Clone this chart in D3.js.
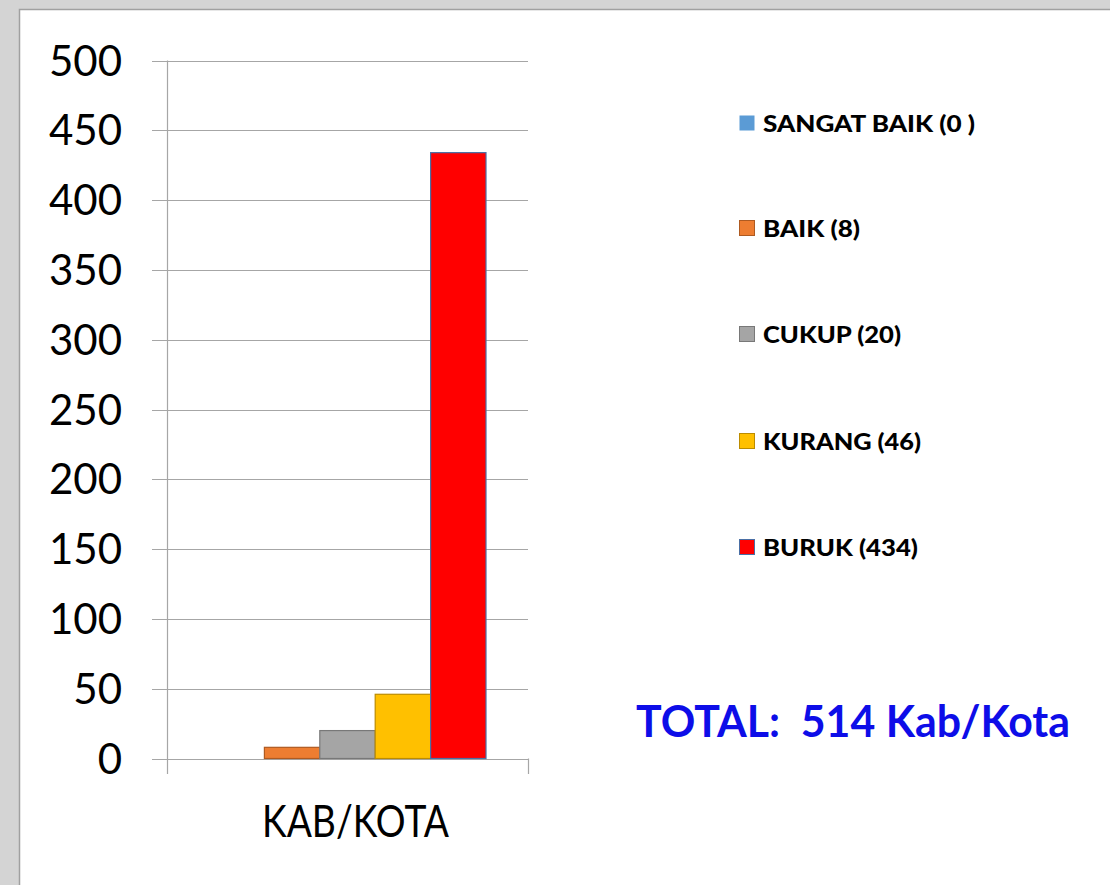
<!DOCTYPE html>
<html>
<head>
<meta charset="utf-8">
<script src="https://cdn.jsdelivr.net/npm/d3@7"></script>
<style>
  html, body { margin: 0; padding: 0; background: #d4d4d4; }
  svg { display: block; }
  text { white-space: pre; }
</style>
</head>
<body>
<svg id="chart" width="1110" height="885"></svg>
<script>
// ---- data ----
const categories = ["KAB/KOTA"];
const seriesNames = ["SANGAT BAIK (0 )", "BAIK (8)", "CUKUP (20)", "KURANG (46)", "BURUK (434)"];
const seriesValues = [0, 8, 20, 46, 434];
const seriesColors = ["#5b9bd5", "#ed7d31", "#a5a5a5", "#ffc000", "#ff0000"];
const seriesStrokes = ["#41719c", "#ae5a21", "#787878", "#bc8c00", "#4a6fa5"];
const yTicks = [0, 50, 100, 150, 200, 250, 300, 350, 400, 450, 500];
const totalLabel = "TOTAL:  514 Kab/Kota";

const svg = d3.select("#chart");
const W = 1110, H = 885;
const FONT = "Lato, 'Open Sans', sans-serif";

// background + slide panel
svg.append("rect").attr("x", 0).attr("y", 0).attr("width", W).attr("height", H).attr("fill", "#d4d4d4");
svg.append("rect").attr("x", 19.5).attr("y", 9.5).attr("width", W).attr("height", H)
  .attr("fill", "#ffffff").attr("stroke", "#a0a0a0").attr("stroke-width", 1.5);

const plot = { left: 167, right: 528, top: 60.5, bottom: 758.5 };

const x = d3.scaleBand().domain(categories).range([plot.left, plot.right]).paddingInner(0).paddingOuter(0);
const xs = d3.scaleBand().domain(seriesNames).range([0, x.bandwidth()]).paddingInner(0).paddingOuter(0.758);
const y = d3.scaleLinear().domain([0, 500]).range([plot.bottom, plot.top]);

// gridlines with tick stubs
svg.append("g").selectAll("line").data(yTicks).join("line")
  .attr("x1", 152).attr("x2", plot.right)
  .attr("y1", d => Math.round(y(d)) + 0.5).attr("y2", d => Math.round(y(d)) + 0.5)
  .attr("stroke", "#a6a6a6").attr("stroke-width", 1.2);

// y axis line
svg.append("line").attr("x1", plot.left + 0.5).attr("x2", plot.left + 0.5)
  .attr("y1", y(500)).attr("y2", 774).attr("stroke", "#a6a6a6").attr("stroke-width", 1.2);
// category boundary tick at right
svg.append("line").attr("x1", plot.right + 0.5).attr("x2", plot.right + 0.5)
  .attr("y1", y(0)).attr("y2", 774).attr("stroke", "#a6a6a6").attr("stroke-width", 1.2);

// y tick labels
svg.append("g").selectAll("text").data(yTicks).join("text")
  .attr("x", 122).attr("y", d => y(d) + 15)
  .attr("text-anchor", "end")
  .attr("font-family", FONT).attr("font-size", 42)
  .attr("fill", "#000").text(d => d);

// bars
const data = seriesNames.map((s, i) => ({ s, v: seriesValues[i], c: seriesColors[i], k: seriesStrokes[i] }));
svg.append("g").selectAll("rect").data(data.filter(d => d.v > 0)).join("rect")
  .attr("x", d => x(categories[0]) + xs(d.s))
  .attr("y", d => y(d.v))
  .attr("width", xs.bandwidth())
  .attr("height", d => y(0) - y(d.v))
  .attr("fill", d => d.c).attr("stroke", d => d.k).attr("stroke-width", 1.2);

// category label
svg.append("text")
  .attr("x", 355.5).attr("y", 837)
  .attr("text-anchor", "middle")
  .attr("font-family", FONT).attr("font-size", 45)
  .attr("fill", "#000").text(categories[0])
  .attr("textLength", 187).attr("lengthAdjust", "spacingAndGlyphs");

// legend
const legendY = [123, 228, 334, 441, 547];
const lg = svg.append("g").selectAll("g").data(data).join("g")
  .attr("transform", (d, i) => `translate(739, ${legendY[i]})`);
lg.append("rect").attr("x", 0.5).attr("y", -7.5).attr("width", 15).attr("height", 15)
  .attr("fill", d => d.c).attr("stroke", (d, i) => i === 0 ? "none" : d.k).attr("stroke-width", 1);
const legendWidths = [212, 97, 138, 158, 155];
lg.append("text").attr("x", 24).attr("y", 8.5)
  .attr("font-family", FONT).attr("font-weight", 900).attr("font-size", 23)
  .attr("fill", "#000").text(d => d.s)
  .each(function(d, i) {
    d3.select(this).attr("textLength", legendWidths[i]).attr("lengthAdjust", "spacingAndGlyphs");
  });

// total annotation
svg.append("text").attr("x", 636).attr("y", 737)
  .attr("font-family", FONT).attr("font-weight", "bold").attr("font-size", 44)
  .attr("fill", "#0d0de8").attr("textLength", 434).attr("lengthAdjust", "spacingAndGlyphs")
  .text(totalLabel);
</script>
</body>
</html>
